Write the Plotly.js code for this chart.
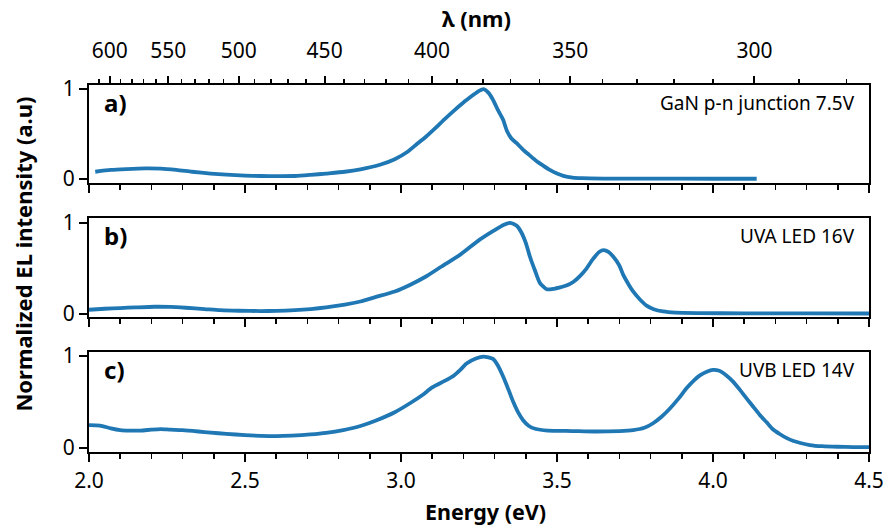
<!DOCTYPE html>
<html>
<head>
<meta charset="utf-8">
<script src="https://cdn.plot.ly/plotly-3.0.1.min.js"></script>
<style>html,body{margin:0;padding:0;background:#fff;}#chart{width:884px;height:528px;}</style>
</head>
<body>
<div id="chart"></div>
<script>
// Panel a) GaN p-n junction 7.5V
const energyA = [2.02,2.07,2.12,2.18,2.23,2.28,2.33,2.39,2.44,2.50,2.55,2.60,2.66,2.71,2.76,2.82,2.87,2.93,2.98,3.02,3.05,3.08,3.11,3.14,3.17,3.20,3.23,3.25,3.265,3.28,3.295,3.31,3.327,3.34,3.354,3.37,3.39,3.41,3.434,3.455,3.477,3.50,3.52,3.55,3.58,3.65,3.8,4.0,4.14];
const intensityA = [0.08,0.10,0.11,0.118,0.115,0.10,0.08,0.06,0.048,0.038,0.033,0.032,0.033,0.045,0.06,0.08,0.107,0.155,0.22,0.30,0.385,0.47,0.565,0.665,0.76,0.85,0.93,0.98,1.0,0.96,0.88,0.77,0.66,0.53,0.45,0.40,0.33,0.27,0.20,0.15,0.10,0.06,0.035,0.015,0.008,0.004,0.003,0.002,0.002];

// Panel b) UVA LED 16V
const energyB = [2.00,2.05,2.10,2.15,2.21,2.26,2.31,2.37,2.42,2.48,2.55,2.60,2.66,2.71,2.76,2.82,2.87,2.92,2.98,3.03,3.08,3.13,3.19,3.25,3.30,3.33,3.35,3.37,3.385,3.40,3.413,3.43,3.445,3.467,3.49,3.51,3.53,3.552,3.575,3.595,3.615,3.635,3.65,3.665,3.68,3.70,3.712,3.73,3.744,3.765,3.787,3.81,3.84,3.88,3.95,4.1,4.3,4.5];
const intensityB = [0.044,0.055,0.063,0.07,0.077,0.075,0.066,0.052,0.04,0.033,0.03,0.032,0.04,0.052,0.07,0.10,0.135,0.185,0.245,0.32,0.41,0.52,0.65,0.81,0.92,0.98,1.0,0.97,0.90,0.78,0.63,0.47,0.34,0.27,0.275,0.29,0.31,0.35,0.42,0.50,0.60,0.68,0.70,0.68,0.63,0.53,0.43,0.32,0.245,0.16,0.09,0.05,0.025,0.012,0.007,0.005,0.004,0.003];

// Panel c) UVB LED 14V
const energyC = [2.00,2.035,2.07,2.10,2.13,2.165,2.2,2.23,2.26,2.30,2.35,2.39,2.44,2.50,2.55,2.60,2.65,2.71,2.76,2.815,2.87,2.92,2.98,3.03,3.07,3.10,3.14,3.17,3.19,3.21,3.24,3.265,3.295,3.31,3.327,3.345,3.36,3.375,3.392,3.41,3.43,3.47,3.55,3.62,3.70,3.744,3.78,3.808,3.835,3.862,3.89,3.915,3.94,3.958,3.98,4.00,4.02,4.043,4.065,4.087,4.11,4.129,4.15,4.172,4.19,4.215,4.235,4.258,4.28,4.31,4.35,4.40,4.45,4.50];
const intensityC = [0.25,0.245,0.215,0.196,0.19,0.19,0.2,0.206,0.2,0.194,0.18,0.167,0.155,0.14,0.133,0.13,0.135,0.148,0.165,0.196,0.24,0.30,0.39,0.49,0.58,0.66,0.73,0.79,0.85,0.92,0.975,0.995,0.97,0.90,0.78,0.63,0.50,0.39,0.30,0.24,0.21,0.19,0.185,0.18,0.185,0.195,0.22,0.27,0.34,0.43,0.54,0.65,0.74,0.79,0.83,0.85,0.84,0.79,0.72,0.63,0.53,0.45,0.36,0.28,0.21,0.15,0.11,0.076,0.055,0.033,0.02,0.014,0.011,0.01];

// Tick labels
const energyTicks = [2.0, 2.5, 3.0, 3.5, 4.0, 4.5];
const intensityTicks = [0, 1];
const wavelengthMajor = [600, 550, 500, 450, 400, 350, 300];
const wavelengthMinor = [610,590,580,570,560,540,530,520,510,490,480,470,460,440,430,420,410,390,380,370,360,340,330,320,310,290,280];
const panelLabels = ['a)', 'b)', 'c)'];
const panelNames = ['GaN p-n junction 7.5V', 'UVA LED 16V', 'UVB LED 14V'];

const HC = 1239.84;
const toE = l => HC / l;

const FONT = 'Noto Sans, Open Sans, sans-serif';
const lineColor = '#1f77b4';
const TICK = 21;

const lineStyle = {color: lineColor, width: 3.8, shape: 'spline', smoothing: 0.6};
const traces = [
  {x: energyA, y: intensityA, xaxis: 'x', yaxis: 'y'},
  {x: energyB, y: intensityB, xaxis: 'x2', yaxis: 'y2'},
  {x: energyC, y: intensityC, xaxis: 'x3', yaxis: 'y3'}
].map(t => Object.assign(t, {type: 'scatter', mode: 'lines', line: lineStyle, hoverinfo: 'skip', showlegend: false}));
// carrier for the top wavelength axis (drawn transparent, same data as panel a)
traces.push({type: 'scatter', mode: 'lines', x: energyA, y: intensityA, xaxis: 'x4', yaxis: 'y', line: {color: 'rgba(0,0,0,0)', width: 0}, opacity: 0, hoverinfo: 'skip', showlegend: false});

function xAx(anchor, labels) {
  return {
    anchor: anchor, range: [2.0, 4.5], domain: [0, 1],
    showline: true, linecolor: '#000', linewidth: 2, mirror: true,
    ticks: 'outside', ticklen: 8, tickwidth: 2, tickcolor: '#000',
    tickmode: 'array', tickvals: energyTicks, ticktext: energyTicks.map(v => v.toFixed(1)),
    showticklabels: labels, ticklabelstandoff: 1, showgrid: false, zeroline: false,
    tickfont: {family: FONT, size: TICK, color: '#000'},
    minor: {dtick: 0.1, tick0: 2.0, ticks: 'outside', ticklen: 5, tickwidth: 1.5, tickcolor: '#000', showgrid: false}
  };
}
function yAx(anchor, domain, range) {
  return {
    anchor: anchor, domain: domain, range: range,
    showline: true, linecolor: '#000', linewidth: 2, mirror: true,
    ticks: 'outside', ticklen: 8, tickwidth: 2, tickcolor: '#000',
    tickmode: 'array', tickvals: intensityTicks, ticktext: intensityTicks.map(String),
    showgrid: false, zeroline: false,
    tickfont: {family: FONT, size: TICK, color: '#000'}
  };
}

const layout = {
  width: 884, height: 528,
  margin: {l: 89, r: 15, t: 85, b: 76},
  paper_bgcolor: '#fff', plot_bgcolor: '#fff',
  showlegend: false,
  xaxis: xAx('y', false),
  xaxis2: xAx('y2', false),
  xaxis3: xAx('y3', true),
  xaxis4: {
    overlaying: 'x', anchor: 'y', side: 'top', range: [2.0, 4.5],
    tickmode: 'array', tickvals: wavelengthMajor.map(toE), ticktext: wavelengthMajor.map(String),
    ticks: 'outside', ticklen: 8, tickwidth: 2, tickcolor: '#000', ticklabelstandoff: 10,
    showgrid: false, zeroline: false, showline: false,
    tickfont: {family: FONT, size: TICK, color: '#000'},
    minor: {tickmode: 'array', tickvals: wavelengthMinor.map(toE), ticks: 'outside', ticklen: 5, tickwidth: 1.5, tickcolor: '#000', showgrid: false}
  },
  yaxis: yAx('x', [0.733, 1.0], [-0.045, 1.045]),
  yaxis2: yAx('x2', [0.368, 0.638], [-0.035, 1.055]),
  yaxis3: yAx('x3', [0.0, 0.2725], [-0.043, 1.045]),
  annotations: [
    {xref: 'paper', yref: 'paper', x: -0.085, y: 0.54, text: '<b>Normalized EL intensity (a.u)</b>', textangle: -90, showarrow: false, xanchor: 'center', yanchor: 'middle', font: {family: FONT, size: 22, color: '#000'}},
    {xref: 'paper', yref: 'paper', x: 0.508, y: -0.163, text: '<b>Energy (eV)</b>', showarrow: false, xanchor: 'center', yanchor: 'middle', font: {family: FONT, size: 21.5, color: '#000'}},
    {xref: 'paper', yref: 'paper', x: 0.497, y: 1.183, text: '<b>λ (nm)</b>', showarrow: false, xanchor: 'center', yanchor: 'middle', font: {family: FONT, size: 22, color: '#000'}}
  ]
};

const yrefs = ['y domain', 'y2 domain', 'y3 domain'];
const xrefs = ['x domain', 'x2 domain', 'x3 domain'];
for (let i = 0; i < 3; i++) {
  layout.annotations.push({xref: xrefs[i], yref: yrefs[i], x: 0.017, y: 0.82, text: '<b>' + panelLabels[i] + '</b>', showarrow: false, xanchor: 'left', yanchor: 'middle', font: {family: FONT, size: 24, color: '#000'}});
  layout.annotations.push({xref: xrefs[i], yref: yrefs[i], x: 0.985, y: 0.82, text: panelNames[i], showarrow: false, xanchor: 'right', yanchor: 'middle', font: {family: FONT, size: 19, color: '#000'}});
}

Plotly.newPlot('chart', traces, layout, {staticPlot: true, displayModeBar: false});
</script>
</body>
</html>
